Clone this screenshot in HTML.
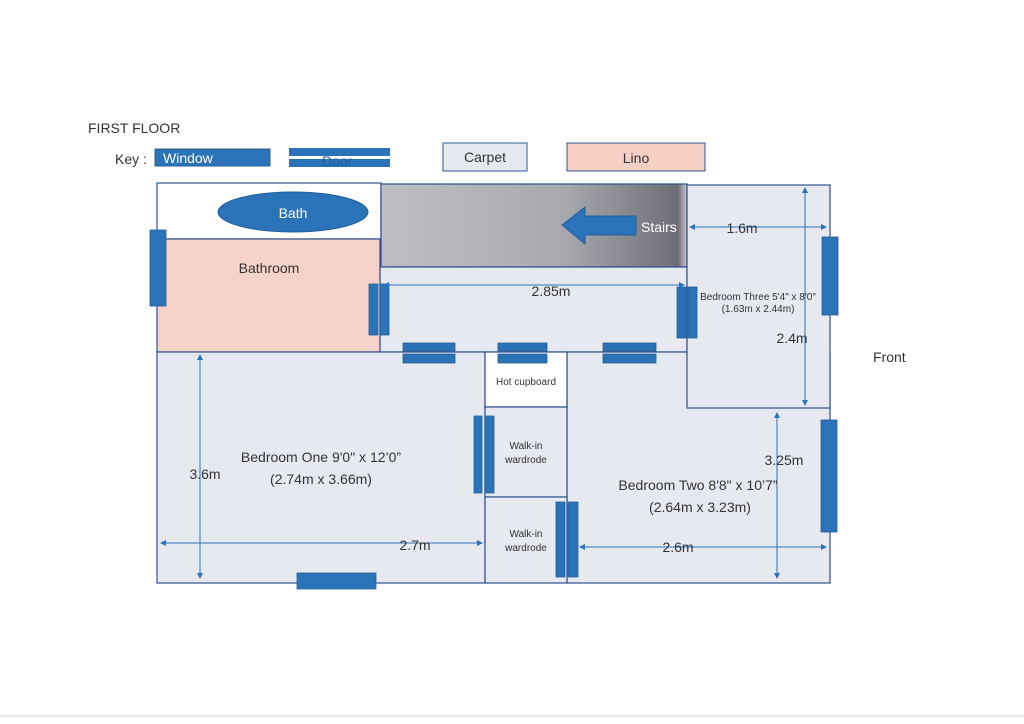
<!DOCTYPE html>
<html><head><meta charset="utf-8"><style>
html,body{margin:0;padding:0;background:#fff;}
svg{display:block;font-family:"Liberation Sans",sans-serif;}
</style></head><body>
<svg width="1024" height="724" viewBox="0 0 1024 724" xmlns="http://www.w3.org/2000/svg">
<defs>
<linearGradient id="st" x1="0" x2="1" y1="0" y2="0">
<stop offset="0" stop-color="#bebec5"/><stop offset="0.6" stop-color="#a8a8af"/><stop offset="0.97" stop-color="#6e6e76"/><stop offset="1" stop-color="#c8c8cc"/>
</linearGradient>
<marker id="a" markerWidth="6" markerHeight="6" refX="5" refY="3" orient="auto-start-reverse"><path d="M0,0L6,3L0,6z" fill="#2a73b8"/></marker>
</defs>
<rect width="1024" height="724" fill="#fff"/>
<line x1="0" y1="716" x2="1024" y2="716" stroke="#ccc"/>
<text x="88" y="133" font-size="14" fill="#333">FIRST FLOOR</text>
<text x="115" y="164" font-size="14" fill="#333">Key :</text>
<rect x="155" y="149" width="115" height="17" fill="#2a73b8" stroke="#2a5f9a"/>
<text x="163" y="163" font-size="14" fill="#fff">Window</text>
<rect x="289" y="148" width="101" height="8" fill="#2a73b8"/>
<rect x="289" y="159" width="101" height="8" fill="#2a73b8"/>
<text x="322" y="166" font-size="14" fill="#1f5f9f">Door</text>
<rect x="443" y="143" width="84" height="28" fill="#e6e9f0" stroke="#2f5a99"/>
<text x="485" y="162" font-size="14" fill="#333" text-anchor="middle">Carpet</text>
<rect x="567" y="143" width="138" height="28" fill="#f5cfc3" stroke="#2f5a99"/>
<text x="636" y="163" font-size="14" fill="#333" text-anchor="middle">Lino</text>

<g stroke="#2f4f8f" stroke-width="1.2">
<rect x="157" y="183" width="224" height="56" fill="#fff"/>
<rect x="157" y="239" width="223" height="113" fill="#f5d3c8"/>
<rect x="381" y="184" width="306" height="83" fill="url(#st)"/>
<rect x="380" y="267" width="307" height="85" fill="#e6e9f0"/>
<rect x="157" y="352" width="328" height="231" fill="#e6e9f0"/>
<rect x="567" y="352" width="263" height="231" fill="#e6e9f0"/>
<rect x="687" y="185" width="143" height="223" fill="#e6e9f0"/>
<rect x="485" y="352" width="82" height="55" fill="#fff"/>
<rect x="485" y="407" width="82" height="90" fill="#e6e9f0"/>
<rect x="485" y="497" width="82" height="86" fill="#e6e9f0"/>
</g>

<ellipse cx="293" cy="212" rx="75" ry="20" fill="#2a73b8" stroke="#235f9a"/>
<text x="293" y="218" font-size="14" fill="#fff" text-anchor="middle">Bath</text>
<path d="M562,225 L585,207 L585,216 L636,216 L636,235 L585,235 L585,244 Z" fill="#2a73b8" stroke="#235f9a"/>
<text x="641" y="232" font-size="14" fill="#fff">Stairs</text>
<text x="269" y="273" font-size="14" fill="#333" text-anchor="middle">Bathroom</text>

<g fill="#2a73b8" stroke="#235f9a" stroke-width="0.8">
<rect x="150" y="230" width="16" height="76"/>
<rect x="369" y="284" width="9" height="51"/><rect x="380" y="284" width="9" height="51"/>
<rect x="677" y="287" width="9" height="51"/><rect x="688" y="287" width="9" height="51"/>
<rect x="403" y="343" width="52" height="8"/><rect x="403" y="354" width="52" height="9"/>
<rect x="498" y="343" width="49" height="8"/><rect x="498" y="354" width="49" height="9"/>
<rect x="603" y="343" width="53" height="8"/><rect x="603" y="354" width="53" height="9"/>
<rect x="822" y="237" width="16" height="78"/>
<rect x="821" y="420" width="16" height="112"/>
<rect x="474" y="416" width="8" height="77"/><rect x="485" y="416" width="9" height="77"/>
<rect x="556" y="502" width="9" height="75"/><rect x="568" y="502" width="10" height="75"/>
<rect x="297" y="573" width="79" height="16"/>
</g>

<g stroke="#2a73b8" stroke-width="1" marker-start="url(#a)" marker-end="url(#a)">
<line x1="384" y1="285" x2="684" y2="285"/>
<line x1="690" y1="227" x2="826" y2="227"/>
<line x1="805" y1="188" x2="805" y2="405"/>
<line x1="777" y1="413" x2="777" y2="578"/>
<line x1="580" y1="547" x2="826" y2="547"/>
<line x1="161" y1="543" x2="482" y2="543"/>
<line x1="200" y1="355" x2="200" y2="578"/>
</g>

<g fill="#333">
<text x="551" y="296" font-size="14" text-anchor="middle">2.85m</text>
<text x="742" y="233" font-size="14" text-anchor="middle">1.6m</text>
<text x="758" y="300" font-size="10" text-anchor="middle">Bedroom Three 5'4" x 8'0"</text>
<text x="758" y="312" font-size="10" text-anchor="middle">(1.63m x 2.44m)</text>
<text x="792" y="343" font-size="14" text-anchor="middle">2.4m</text>
<text x="784" y="465" font-size="14" text-anchor="middle">3.25m</text>
<text x="698" y="490" font-size="14" text-anchor="middle">Bedroom Two 8'8" x 10’7”</text>
<text x="700" y="512" font-size="14" text-anchor="middle">(2.64m x 3.23m)</text>
<text x="678" y="552" font-size="14" text-anchor="middle">2.6m</text>
<text x="526" y="385" font-size="10" text-anchor="middle">Hot cupboard</text>
<text x="526" y="449" font-size="10" text-anchor="middle">Walk-in</text>
<text x="526" y="463" font-size="10" text-anchor="middle">wardrode</text>
<text x="526" y="537" font-size="10" text-anchor="middle">Walk-in</text>
<text x="526" y="551" font-size="10" text-anchor="middle">wardrode</text>
<text x="321" y="462" font-size="14" text-anchor="middle">Bedroom One 9'0" x 12’0”</text>
<text x="321" y="484" font-size="14" text-anchor="middle">(2.74m x 3.66m)</text>
<text x="205" y="479" font-size="14" text-anchor="middle">3.6m</text>
<text x="415" y="550" font-size="14" text-anchor="middle">2.7m</text>
<text x="873" y="362" font-size="14">Front</text>
</g>
</svg>
</body></html>
